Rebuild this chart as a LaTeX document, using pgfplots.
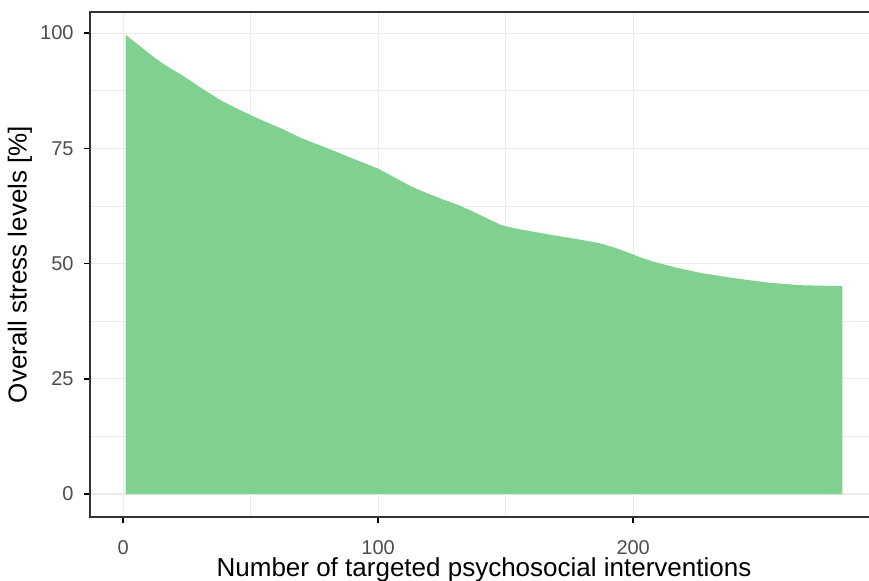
\documentclass[border=0pt]{standalone}
\usepackage{pgfplots}
\pgfplotsset{compat=1.18}
\usepackage{fontspec}
\setmainfont{Liberation Sans}

\definecolor{areagreen}{RGB}{128,209,144}
\definecolor{gridgray}{RGB}{235,235,235}
\definecolor{framegray}{RGB}{51,51,51}
\definecolor{ticklab}{RGB}{77,77,77}

\begin{document}
\begin{tikzpicture}
\begin{axis}[
	name=ax,
	scale only axis,
	width=394pt, height=252.5pt,
	xmin=-13, xmax=296,
	ymin=-4.98, ymax=104.58,
	xtick={0,100,200},
	ytick={0,25,50,75,100},
	minor x tick num=1,
	minor y tick num=1,
	xmajorgrids, ymajorgrids, xminorgrids, yminorgrids,
	major grid style={draw=gridgray, line width=0.55pt},
	minor grid style={draw=gridgray, line width=0.3pt},
	minor tick length=0pt,
	major tick length=3pt,
	xtick align=outside, ytick align=outside,
	major tick style={draw=black, line width=0.8pt},
	axis line style={draw=framegray, line width=0.55pt},
	xtick pos=lower, ytick pos=lower,
	/pgf/number format/assume math mode=true,
	tick label style={font=\fontsize{10}{12}\selectfont, text=ticklab},
	xticklabel style={inner sep=0pt, anchor=north, yshift=-8.5pt},
	yticklabel style={inner sep=0pt, anchor=east, xshift=-5pt},
	label style={font=\fontsize{13}{15}\selectfont},
	xlabel={Number of targeted psychosocial interventions},
	ylabel={Overall stress levels [\%]},
	x label style={at={(axis description cs:0.5,0)}, anchor=center, yshift=-26.5pt},
	y label style={at={(axis description cs:0,0.5)}, anchor=center, yshift=35pt},
]
\addplot[fill=areagreen, draw=none] coordinates {
	(1,99.6) (4,98.3) (7,97.0) (11,95.2) (15,93.6) (19,92.2) (23,90.9)
	(30,88.3) (38,85.5) (44,83.8) (50,82.2) (56,80.7) (62,79.3)
	(70,77.2) (76,75.9) (82,74.6) (90,72.8) (100,70.6) (106,68.8)
	(113,66.7) (119,65.3) (125,64.0) (131,62.8) (136,61.6) (142,60.0)
	(148,58.4) (153,57.7) (158,57.2) (168,56.2) (178,55.3) (187,54.4)
	(193,53.4) (198,52.4) (203,51.3) (208,50.4) (217,49.1) (227,47.9)
	(240,46.8) (254,45.8) (266,45.3) (282,45.1)
} \closedcycle;
\end{axis}
\path (ax.south west) ++(-45pt,-32pt) coordinate (bbA);
\path (ax.north west) ++(389.5pt,6pt) coordinate (bbB);
\pgfresetboundingbox
\path[use as bounding box] (bbA) rectangle (bbB);
\end{tikzpicture}
\end{document}
